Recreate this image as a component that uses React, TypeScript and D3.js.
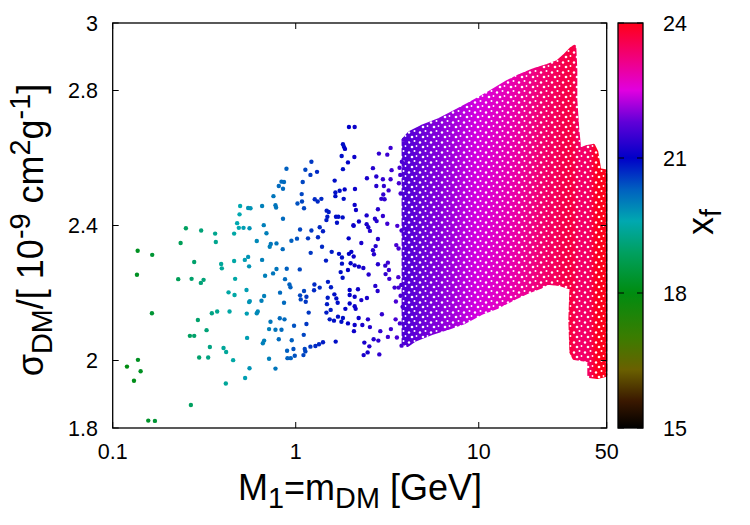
import * as d3 from "d3";

// x_f colour palette
const paletteValues = [15, 15.6, 16.3, 17.0, 18.0, 18.9, 19.6, 20.3, 21.0, 21.8, 22.5, 23.2, 24];
const paletteColours = [
  "#000000", "#3a1800", "#6a6000", "#3c7c00", "#008c10", "#00a060", "#00a8b0",
  "#0060c0", "#0000c8", "#6000d8", "#e000e0", "#f00080", "#ff0018",
];

const xTicks = [0.1, 1, 10, 50];
const yTicks = [1.8, 2, 2.4, 2.8, 3];
const cbTicks = [15, 18, 21, 24];

// [mass GeV, sigma, x_f]
const greenPoints: [number, number, number][] = [
  [0.1369, 2.325, 18.2], [0.1644, 2.313, 18.4], [0.1357, 2.254, 18.2], [0.1638, 2.14, 18.4],
  [0.1374, 2.002, 18.2], [0.1197, 1.982, 18.0], [0.1421, 1.968, 18.2], [0.1307, 1.94, 18.1],
  [0.1564, 1.822, 18.3], [0.1701, 1.821, 18.4], [0.2674, 1.868, 18.9],
];

const tealPoints: [number, number, number][] = [
  [0.2511, 2.392, 18.9], [0.235, 2.348, 18.8], [0.3043, 2.385, 19.1], [0.2788, 2.292, 19.0],
  [0.228, 2.241, 18.8], [0.2698, 2.242, 19.0], [0.3031, 2.23, 19.1], [0.3137, 2.239, 19.1],
  [0.3628, 2.376, 19.3], [0.366, 2.351, 19.3], [0.3913, 2.286, 19.4], [0.3947, 2.273, 19.4],
  [0.292, 2.12, 19.0], [0.2641, 2.073, 18.9], [0.2788, 2.073, 19.0], [0.3257, 2.09, 19.1],
  [0.3481, 2.14, 19.2], [0.3722, 2.145, 19.3], [0.3395, 2.04, 19.2], [0.2968, 2.009, 19.0],
  [0.3323, 2.009, 19.2], [0.4032, 2.037, 19.4], [0.4167, 2.025, 19.4], [0.455, 2.001, 19.5],
  [0.415, 1.932, 19.4], [0.4968, 2.458, 19.6], [0.4931, 2.433, 19.6], [0.4785, 2.407, 19.6],
  [0.4888, 2.393, 19.6], [0.5185, 2.393, 19.7], [0.559, 2.392, 19.8], [0.4607, 2.376, 19.5],
  [0.5494, 2.452, 19.8], [0.5661, 2.451, 19.8], [0.6127, 2.354, 19.9], [0.4607, 2.295, 19.5],
  [0.5271, 2.298, 19.7], [0.5494, 2.307, 19.8], [0.5562, 2.279, 19.8], [0.4666, 2.242, 19.5],
  [0.4295, 2.202, 19.5], [0.4631, 2.194, 19.5], [0.5383, 2.209, 19.7], [0.5562, 2.173, 19.8],
  [0.5611, 2.176, 19.8], [0.4349, 2.145, 19.5], [0.5403, 2.139, 19.7], [0.6127, 2.14, 19.9],
  [0.6205, 2.145, 19.9], [0.5424, 2.067, 19.7], [0.559, 1.977, 19.8], [0.529, 1.948, 19.7],
];

const bluePoints: [number, number, number][] = [
  [1.953, 2.692, 21.0], [2.099, 2.692, 21.1], [1.811, 2.641, 20.9], [1.834, 2.633, 20.9],
  [1.858, 2.627, 21.0], [1.782, 2.606, 20.9], [2.091, 2.603, 21.1], [1.929, 2.587, 21.0],
  [1.811, 2.567, 20.9], [1.218, 2.589, 20.6], [0.89, 2.568, 20.3], [1.129, 2.565, 20.5],
  [1.307, 2.559, 20.7], [1.203, 2.55, 20.6], [0.836, 2.53, 20.2], [0.863, 2.529, 20.2],
  [0.808, 2.517, 20.2], [0.852, 2.509, 20.2], [1.092, 2.529, 20.5], [1.632, 2.533, 20.9],
  [0.7555, 2.487, 20.1], [1.078, 2.493, 20.5], [1.647, 2.498, 20.9], [1.738, 2.503, 20.9],
  [1.851, 2.507, 21.0], [1.647, 2.487, 20.9], [2.107, 2.508, 21.1], [1.828, 2.479, 20.9],
  [1.27, 2.478, 20.7], [1.318, 2.471, 20.7], [1.381, 2.479, 20.7], [1.022, 2.465, 20.4],
  [1.082, 2.471, 20.5], [1.11, 2.451, 20.5], [0.655, 2.458, 20.0], [0.775, 2.46, 20.1],
  [0.781, 2.453, 20.1], [2.099, 2.461, 21.1], [2.133, 2.446, 21.1], [1.476, 2.444, 20.8],
  [1.514, 2.44, 20.8], [1.471, 2.416, 20.8], [1.489, 2.426, 20.8], [1.659, 2.426, 20.9],
  [1.71, 2.426, 20.9], [1.805, 2.424, 20.9], [1.68, 2.408, 20.9], [0.852, 2.42, 20.2],
  [0.669, 2.401, 20.0], [2.073, 2.399, 21.1], [0.692, 2.377, 20.0], [1.056, 2.388, 20.5],
  [1.218, 2.385, 20.6], [1.352, 2.395, 20.7], [1.409, 2.383, 20.8], [1.323, 2.365, 20.7],
  [1.167, 2.362, 20.6], [1.016, 2.361, 20.4], [0.947, 2.355, 20.3], [0.7306, 2.345, 20.1],
  [0.785, 2.347, 20.1], [0.721, 2.337, 20.0], [0.849, 2.33, 20.2], [1.392, 2.337, 20.7],
  [1.946, 2.362, 21.0], [1.207, 2.319, 20.6], [1.572, 2.322, 20.8], [1.723, 2.316, 20.9],
  [1.789, 2.305, 20.9], [1.953, 2.316, 21.0], [2.013, 2.322, 21.0], [2.073, 2.308, 21.1],
  [0.655, 2.298, 20.0], [1.463, 2.296, 20.8], [1.789, 2.287, 20.9], [1.995, 2.288, 21.0],
  [2.099, 2.282, 21.1], [2.214, 2.278, 21.1], [2.341, 2.274, 21.2], [1.929, 2.268, 21.0],
  [1.76, 2.262, 20.9], [1.804, 2.245, 20.9], [0.785, 2.271, 20.1], [0.752, 2.258, 20.1],
  [0.68, 2.251, 20.0], [0.893, 2.272, 20.3], [1.052, 2.27, 20.5], [2.502, 2.255, 21.3],
  [0.874, 2.241, 20.2], [1.5, 2.233, 20.8], [1.558, 2.217, 20.8], [1.352, 2.216, 20.7],
  [1.265, 2.225, 20.7], [1.259, 2.208, 20.7], [0.924, 2.225, 20.3], [0.936, 2.217, 20.3],
  [1.11, 2.206, 20.5], [1.056, 2.193, 20.5], [1.065, 2.181, 20.5], [1.144, 2.189, 20.6],
  [1.134, 2.174, 20.6], [1.971, 2.209, 21.0], [1.971, 2.194, 21.0], [2.099, 2.189, 21.1],
  [2.188, 2.211, 21.1], [1.626, 2.196, 20.9], [1.667, 2.184, 20.9], [1.495, 2.186, 20.8],
  [1.482, 2.167, 20.8], [1.695, 2.171, 20.9], [0.821, 2.201, 20.2], [0.65, 2.177, 20.0],
  [0.672, 2.191, 20.0], [0.863, 2.171, 20.2], [2.282, 2.179, 21.2], [2.449, 2.185, 21.2],
  [1.971, 2.169, 21.0], [2.099, 2.161, 21.1], [2.125, 2.153, 21.1], [1.867, 2.153, 21.0],
  [1.552, 2.15, 20.8], [1.471, 2.142, 20.8], [1.177, 2.142, 20.6], [0.818, 2.125, 20.2],
  [0.868, 2.122, 20.2], [0.728, 2.115, 20.1], [1.701, 2.13, 20.9], [1.811, 2.126, 20.9],
  [1.533, 2.122, 20.8], [1.618, 2.118, 20.9], [1.776, 2.115, 20.9], [2.207, 2.126, 21.1],
  [2.48, 2.122, 21.3], [1.929, 2.11, 21.0], [2.099, 2.105, 21.1], [2.312, 2.105, 21.2],
  [1.144, 2.108, 20.6], [0.979, 2.103, 20.4], [0.715, 2.093, 20.0], [0.775, 2.091, 20.1],
  [0.836, 2.091, 20.2], [2.08, 2.087, 21.1], [2.543, 2.099, 21.3], [1.106, 2.076, 20.5],
  [0.808, 2.063, 20.2], [0.951, 2.06, 20.3], [0.672, 2.059, 20.0], [0.661, 2.051, 20.0],
  [2.898, 2.087, 21.4], [3.188, 2.07, 21.5], [3.311, 2.093, 21.5], [1.653, 2.056, 20.9],
  [1.409, 2.054, 20.8], [1.34, 2.048, 20.7], [1.281, 2.043, 20.7], [1.203, 2.041, 20.6],
  [1.12, 2.034, 20.5], [1.129, 2.027, 20.5], [2.371, 2.053, 21.2], [2.665, 2.063, 21.3],
  [2.827, 2.059, 21.4], [2.524, 2.042, 21.3], [0.9716, 2.034, 20.4], [0.897, 2.029, 20.3],
  [0.939, 2.007, 20.3], [0.901, 2.007, 20.3], [1.102, 2.016, 20.5], [0.988, 2.014, 20.4],
  [2.35, 2.016, 21.2], [2.471, 2.024, 21.2], [2.862, 2.018, 21.4], [0.715, 2.005, 20.0],
  [0.775, 1.976, 20.1], [3.786, 2.044, 21.6],
];

const purplePoints: [number, number, number][] = [
  [3.298, 2.63, 21.5], [2.848, 2.613, 21.4], [3.164, 2.61, 21.5], [3.34, 2.564, 21.5],
  [2.641, 2.57, 21.3], [2.449, 2.54, 21.2], [2.756, 2.545, 21.3], [2.994, 2.537, 21.4],
  [3.298, 2.537, 21.5], [2.756, 2.517, 21.3], [3.031, 2.517, 21.4], [3.217, 2.504, 21.5],
  [3.693, 2.571, 21.6], [3.726, 2.55, 21.6], [3.661, 2.525, 21.6], [3.74, 2.495, 21.6],
  [3.009, 2.492, 21.4], [2.935, 2.479, 21.4], [3.058, 2.478, 21.4], [2.812, 2.448, 21.3],
  [2.994, 2.428, 21.4], [2.44, 2.43, 21.2], [2.708, 2.42, 21.3], [2.767, 2.413, 21.3],
  [2.214, 2.412, 21.1], [2.065, 2.401, 21.1], [2.44, 2.404, 21.2], [2.492, 2.395, 21.2],
  [2.543, 2.384, 21.3], [3.164, 2.405, 21.5], [3.588, 2.399, 21.6], [3.786, 2.385, 21.6],
  [2.812, 2.36, 21.3], [2.282, 2.348, 21.2], [2.733, 2.339, 21.3], [2.641, 2.327, 21.3],
  [2.674, 2.315, 21.3], [3.543, 2.342, 21.6], [3.647, 2.332, 21.6], [2.812, 2.285, 21.3],
  [3.085, 2.281, 21.4], [3.188, 2.29, 21.5], [3.228, 2.268, 21.5], [3.097, 2.256, 21.4],
  [3.245, 2.242, 21.5], [3.634, 2.247, 21.6], [3.772, 2.224, 21.6], [3.647, 2.216, 21.6],
  [2.722, 2.221, 21.3], [2.802, 2.206, 21.3], [3.468, 2.216, 21.5], [3.74, 2.192, 21.6],
  [3.526, 2.175, 21.6], [3.834, 2.159, 21.6], [2.957, 2.137, 21.4], [3.513, 2.122, 21.6],
  [3.707, 2.11, 21.6], [3.57, 2.068, 21.6], [3.898, 2.654, 21.7], [4.017, 2.644, 21.7],
  [3.801, 2.589, 21.6],
];

// outline of the densely filled region, 4-50 GeV: [mass, sigma]
const denseOutline: [number, number][] = [
  [3.884, 2.653], [4.187, 2.674], [4.869, 2.692], [6.105, 2.713], [7.37, 2.736],
  [8.899, 2.76], [11.16, 2.79], [14.34, 2.825], [16.67, 2.843], [20.14, 2.861],
  [23.71, 2.873], [26.88, 2.884], [29.35, 2.902], [32.05, 2.923], [33.27, 2.929],
  [33.7, 2.861], [33.7, 2.772], [34.56, 2.683], [35.44, 2.624], [39.18, 2.633],
  [42.25, 2.636], [43.86, 2.618], [45.55, 2.564], [49.12, 2.561], [49.12, 1.957],
  [44.42, 1.951], [40.17, 1.954], [40.17, 2.001], [36.79, 2.004], [33.27, 2.007],
  [32.05, 2.025], [31.65, 2.12], [32.05, 2.215], [27.56, 2.227], [23.71, 2.23],
  [21.71, 2.218], [18.44, 2.203], [15.66, 2.185], [12.65, 2.159], [10.34, 2.141],
  [8.356, 2.114], [6.75, 2.096], [5.52, 2.081], [4.459, 2.061], [4.083, 2.046],
  [3.884, 2.052],
];

// x_f across the dense region: [mass, x_f]
const denseXf: [number, number][] = [
  [3.9, 21.65], [6, 22.0], [10, 22.45], [15, 22.85], [22, 23.3], [32, 23.7],
  [36, 23.35], [40, 23.45], [44, 23.95], [49, 24.0],
];

const font = "'Liberation Sans', Arial, Helvetica, sans-serif";

export default function App() {
  const left = 112.7, right = 606.7, top = 23, bottom = 428;
  const cbX = 618, cbW = 25;

  const x = d3.scaleLog().domain([0.1, 50]).range([left, right]);
  const y = d3.scaleLinear().domain([1.8, 3]).range([bottom, top]);
  const colour = d3.scaleLinear<string>().domain(paletteValues).range(paletteColours).clamp(true);
  const cbY = d3.scaleLinear().domain([15, 24]).range([bottom, top]);

  const outline = d3
    .line<[number, number]>()
    .x((d) => x(d[0]))
    .y((d) => y(d[1]))
    .curve(d3.curveLinearClosed);

  const gx1 = x(denseXf[0][0]);
  const gx2 = x(denseXf[denseXf.length - 1][0]);

  const points = [...greenPoints, ...tealPoints, ...bluePoints, ...purplePoints];

  return (
    <svg width={750} height={525} style={{ position: "absolute", left: 0, top: 0, fontFamily: font }}>
      <defs>
        <linearGradient id="denseGrad" gradientUnits="userSpaceOnUse" x1={gx1} y1={0} x2={gx2} y2={0}>
          {denseXf.map(([m, v], i) => (
            <stop key={i} offset={(x(m) - gx1) / (gx2 - gx1)} stopColor={colour(v)} />
          ))}
        </linearGradient>
        <linearGradient id="cbGrad" x1={0} y1={1} x2={0} y2={0}>
          {paletteValues.map((v, i) => (
            <stop key={i} offset={(v - 15) / 9} stopColor={paletteColours[i]} />
          ))}
        </linearGradient>
        {/* small white gaps between the packed points */}
        <pattern id="gapPattern" width={11} height={10} patternUnits="userSpaceOnUse">
          <rect width={11} height={10} fill="white" />
          <circle cx={2} cy={2.5} r={1.2} fill="black" />
          <circle cx={7.5} cy={1} r={1} fill="black" />
          <circle cx={5} cy={7} r={1.3} fill="black" />
          <circle cx={9.5} cy={6} r={0.9} fill="black" />
        </pattern>
        <mask id="gapMask" maskUnits="userSpaceOnUse" x={0} y={0} width={750} height={525}>
          <rect width={750} height={525} fill="url(#gapPattern)" />
        </mask>
      </defs>

      {/* dense region */}
      <g mask="url(#gapMask)">
        <path
          d={outline(denseOutline) || ""}
          fill="url(#denseGrad)"
          stroke="url(#denseGrad)"
          strokeWidth={4}
          strokeLinejoin="round"
        />
      </g>

      {/* sparse points */}
      {points.map(([m, s, v], i) => (
        <circle key={i} cx={x(m)} cy={y(s)} r={2.2} fill={colour(v)} />
      ))}

      {/* frame */}
      <rect x={left} y={top} width={right - left} height={bottom - top} fill="none" stroke="black" strokeWidth={1.3} />

      {/* y ticks */}
      {yTicks.map((t) => (
        <g key={t}>
          <line x1={left} x2={left + 6} y1={y(t)} y2={y(t)} stroke="black" />
          <line x1={right - 6} x2={right} y1={y(t)} y2={y(t)} stroke="black" />
          <text x={98} y={y(t)} dy="0.35em" textAnchor="end" fontSize={21.5}>
            {t}
          </text>
        </g>
      ))}

      {/* x ticks */}
      {xTicks.map((t) => (
        <g key={t}>
          <line x1={x(t)} x2={x(t)} y1={bottom} y2={bottom - 6} stroke="black" />
          <line x1={x(t)} x2={x(t)} y1={top} y2={top + 6} stroke="black" />
          <text x={x(t)} y={459} textAnchor="middle" fontSize={21.5}>
            {t}
          </text>
        </g>
      ))}

      {/* colour box */}
      <rect x={cbX} y={top} width={cbW} height={bottom - top} fill="url(#cbGrad)" stroke="black" strokeWidth={1.3} />
      {cbTicks.map((t) => (
        <g key={t}>
          <line x1={cbX} x2={cbX + 6} y1={cbY(t)} y2={cbY(t)} stroke="black" />
          <line x1={cbX + cbW - 6} x2={cbX + cbW} y1={cbY(t)} y2={cbY(t)} stroke="black" />
          <text x={663} y={cbY(t)} dy="0.35em" fontSize={21.5}>
            {t}
          </text>
        </g>
      ))}

      {/* axis titles */}
      <text x={360} y={500} textAnchor="middle" fontSize={36}>
        M<tspan dy={8} fontSize={28.8}>1</tspan>
        <tspan dy={-8}>=m</tspan>
        <tspan dy={8} fontSize={28.8}>DM</tspan>
        <tspan dy={-8}>{"\u00a0[GeV]"}</tspan>
      </text>
      <text transform="translate(43,230) rotate(-90)" textAnchor="middle" fontSize={36}>
        σ<tspan dy={9} fontSize={28.8}>DM</tspan>
        <tspan dy={-9}>{"/[\u00a010"}</tspan>
        <tspan dy={-13} fontSize={28.8}>-9</tspan>
        <tspan dy={13}>{"\u00a0cm"}</tspan>
        <tspan dy={-13} fontSize={28.8}>2</tspan>
        <tspan dy={13}>g</tspan>
        <tspan dy={-13} fontSize={28.8}>-1</tspan>
        <tspan dy={13}>]</tspan>
      </text>
      <text transform="translate(713,222) rotate(-90)" textAnchor="middle" fontSize={36}>
        x<tspan dy={8} fontSize={28.8}>f</tspan>
      </text>
    </svg>
  );
}
